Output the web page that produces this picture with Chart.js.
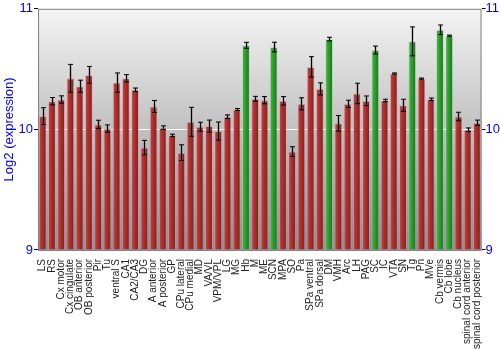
<!DOCTYPE html>
<html>
<head>
<meta charset="utf-8">
<script src="https://cdn.jsdelivr.net/npm/chart.js@4.4.1/dist/chart.umd.min.js"></script>
<style>
  html, body { margin: 0; padding: 0; background: #fff; }
</style>
</head>
<body>
<canvas id="myChart" width="500" height="350"></canvas>
<script>
const REGIONS = ['LS', 'RS', 'Cx motor', 'Cx cingulate', 'OB anterior', 'OB posterior', 'Pir', 'Tu',
  'ventral S', 'CA1', 'CA2/CA3', 'DG', 'A anterior', 'A posterior', 'GP', 'CPu lateral', 'CPu medial',
  'MD', 'VA/VL', 'VPM/VPL', 'LG', 'MG', 'Hb', 'M', 'ME', 'SCN', 'MPA', 'SO', 'Pa', 'SPa ventral',
  'SPa dorsal', 'DM', 'VMH', 'Arc', 'LH', 'PAG', 'SC', 'IC', 'VTA', 'SN', 'Tg', 'Pn', 'MVe',
  'Cb vermis', 'Cb lobe', 'Cb nucleus', 'spinal cord anterior', 'spinal cord posterior'];
const EXPRESSION = [10.11, 10.234, 10.248, 10.424, 10.358, 10.452, 10.041, 10.007, 10.388, 10.424,
  10.328, 9.849, 10.19, 10.014, 9.95, 9.807, 10.063, 10.022, 10.027, 9.986, 10.105, 10.165, 10.697,
  10.254, 10.242, 10.683, 10.237, 9.816, 10.212, 10.518, 10.336, 10.749, 10.05, 10.212, 10.298,
  10.237, 10.658, 10.24, 10.463, 10.2, 10.73, 10.421, 10.25, 10.826, 10.777, 10.107, 9.997, 10.055];
const ERRORS = [0.07, 0.03, 0.03, 0.115, 0.05, 0.07, 0.035, 0.03, 0.08, 0.03, 0.015, 0.06, 0.05,
  0.015, 0.01, 0.065, 0.12, 0.037, 0.05, 0.075, 0.015, 0.008, 0.025, 0.02, 0.03, 0.04, 0.035, 0.04,
  0.05, 0.085, 0.05, 0.015, 0.065, 0.03, 0.085, 0.04, 0.033, 0.01, 0.005, 0.05, 0.12, 0.005, 0.01,
  0.04, 0.005, 0.035, 0.015, 0.022];
const HIGHLIGHTED = ['Hb', 'SCN', 'DM', 'SC', 'Tg', 'Cb vermis', 'Cb lobe'];
const Y_TICKS = [9, 10, 11];

// gray gradient behind the bars + frame
const BACKDROP = {
  id: 'backdrop',
  beforeDraw(chart) {
    const { ctx, chartArea: a } = chart;
    const g = ctx.createLinearGradient(0, a.top, 0, a.bottom);
    g.addColorStop(0, '#f4f4f4');
    g.addColorStop(1, '#8e8e8e');
    ctx.save();
    ctx.fillStyle = g;
    ctx.fillRect(a.left, a.top, a.right - a.left, a.bottom - a.top);
    ctx.restore();
  },
  afterDraw(chart) {
    const { ctx, chartArea: a } = chart;
    ctx.save();
    ctx.strokeStyle = '#808080';
    ctx.lineWidth = 1;
    ctx.strokeRect(a.left + 0.5, a.top + 0.5, a.right - a.left - 1, a.bottom - a.top);
    ctx.restore();
  }
};

// horizontal shading on every bar (own options object per bar, shared ones are frozen)
const BAR_SHADE = {
  id: 'barShade',
  beforeDatasetsDraw(chart) {
    const { ctx } = chart;
    chart.getDatasetMeta(0).data.forEach((bar, i) => {
      const left = bar.x - bar.width / 2;
      const right = bar.x + bar.width / 2;
      const g = ctx.createLinearGradient(left, 0, right, 0);
      const green = HIGHLIGHTED.includes(REGIONS[i]);
      if (green) {
        g.addColorStop(0, '#4cb84c');
        g.addColorStop(0.4, '#2fa02f');
        g.addColorStop(1, '#1a6e1a');
      } else {
        g.addColorStop(0, '#c84848');
        g.addColorStop(0.4, '#b03030');
        g.addColorStop(1, '#7a1e1e');
      }
      bar.options = Object.assign({}, bar.options, {
        backgroundColor: g,
        borderColor: green ? 'rgba(150,220,150,0.45)' : 'rgba(235,150,150,0.45)'
      });
    });
  }
};

const ERROR_BARS = {
  id: 'errorBars',
  afterDatasetsDraw(chart) {
    const { ctx } = chart;
    const y = chart.scales.y;
    ctx.save();
    chart.getDatasetMeta(0).data.forEach((bar, i) => {
      const x = Math.round(bar.x) + 0.5;
      const top = y.getPixelForValue(EXPRESSION[i] + ERRORS[i]);
      const bottom = y.getPixelForValue(EXPRESSION[i] - ERRORS[i]);
      ctx.strokeStyle = 'rgba(90,90,90,0.6)';
      ctx.lineWidth = 2;
      ctx.beginPath();
      ctx.moveTo(x, top); ctx.lineTo(x, bottom);
      ctx.stroke();
      ctx.strokeStyle = '#000';
      ctx.lineWidth = 1;
      ctx.beginPath();
      ctx.moveTo(x, top); ctx.lineTo(x, bottom);
      ctx.moveTo(x - 2.5, top); ctx.lineTo(x + 2.5, top);
      ctx.moveTo(x - 2.5, bottom); ctx.lineTo(x + 2.5, bottom);
      ctx.stroke();
    });
    ctx.restore();
  }
};

const tickFont = { family: 'Liberation Sans, Arial, sans-serif', size: 13 };

const CONFIG = {
  type: 'bar',
  data: {
    labels: REGIONS,
    datasets: [{
      data: EXPRESSION,
      base: 9,
      backgroundColor: '#b03030',
      borderColor: 'rgba(235,150,150,0.45)',
      borderWidth: 1,
      barPercentage: 0.9,
      categoryPercentage: 0.95
    }]
  },
  options: {
    responsive: false,
    animation: false,
    layout: { padding: { top: 4, left: 2, right: 0, bottom: 0 } },
    plugins: {
      legend: { display: false },
      tooltip: { enabled: false }
    },
    scales: {
      x: {
        grid: { display: false },
        border: { display: false },
        ticks: {
          autoSkip: false,
          minRotation: 90,
          maxRotation: 90,
          padding: 1,
          color: '#222',
          font: { family: 'Liberation Sans, Arial, sans-serif', size: 10 }
        }
      },
      y: {
        min: 9,
        max: 11,
        afterBuildTicks(axis) { axis.ticks = Y_TICKS.map(v => ({ value: v })); },
        grid: {
          color: c => (c.tick && c.tick.value === 10 ? '#ffffff' : 'rgba(0,0,0,0)'),
          tickColor: '#000',
          tickLength: 4
        },
        border: { display: false },
        ticks: { color: '#0000ff', padding: 1, font: tickFont },
        title: {
          display: true,
          text: 'Log2 (expression)',
          color: '#0000ff',
          padding: 0,
          font: { family: 'Liberation Sans, Arial, sans-serif', size: 13 }
        }
      },
      y2: {
        position: 'right',
        min: 9,
        max: 11,
        afterBuildTicks(axis) { axis.ticks = Y_TICKS.map(v => ({ value: v })); },
        grid: { drawOnChartArea: false, tickColor: '#000', tickLength: 4 },
        border: { display: false },
        ticks: { color: '#0000ff', padding: 0, font: tickFont }
      }
    }
  },
  plugins: [BACKDROP, BAR_SHADE, ERROR_BARS]
};

const MY_CHART = new Chart(document.getElementById('myChart'), CONFIG);
</script>
</body>
</html>
